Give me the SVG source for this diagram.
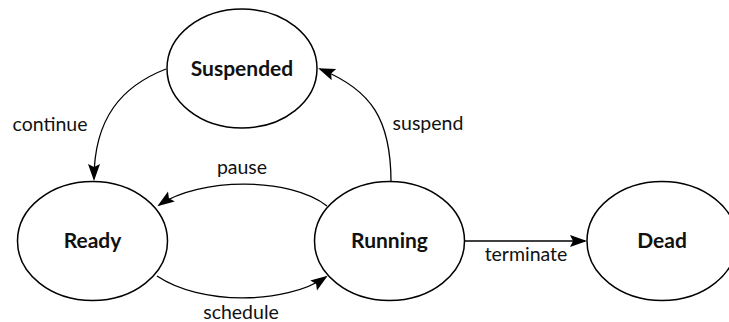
<svg xmlns="http://www.w3.org/2000/svg" width="729" height="322" viewBox="0 0 729 322">
<style>
.node ellipse{fill:#fff;stroke:#000;stroke-width:1.5}
.node text{font-family:Lato,"Liberation Sans",sans-serif;font-weight:bold;font-size:21px;text-anchor:middle;fill:#111}
.edge{fill:none;stroke:#000;stroke-width:1.3}
.lbl{font-family:Lato,"Liberation Sans",sans-serif;font-size:19.5px;fill:#111}
</style>
<defs>
<marker id="arr" markerUnits="userSpaceOnUse" markerWidth="20" markerHeight="14" refX="15" refY="6" orient="auto">
<path d="M0,0 L17,6 L0,12 L3,6 z" fill="#000"/>
</marker>
</defs>
<rect width="729" height="322" fill="#fff"/>
<g id="connectors">
<path class="edge" d="M166,69 C122,86 94,118 94,179" marker-end="url(#arr)"/>
<path class="edge" d="M391,182 C391,120 372,90 320,69" marker-end="url(#arr)"/>
<path class="edge" d="M327,206 C290,177 200,177 159,205" marker-end="url(#arr)"/>
<path class="edge" d="M157,276 C200,305 285,305 326,277" marker-end="url(#arr)"/>
<path class="edge" d="M464,241 L585,241" marker-end="url(#arr)"/>
<text class="lbl" x="50" y="131" text-anchor="middle">continue</text>
<text class="lbl" x="428" y="130" text-anchor="middle">suspend</text>
<text class="lbl" x="242" y="174" text-anchor="middle">pause</text>
<text class="lbl" x="241" y="319" text-anchor="middle">schedule</text>
<text class="lbl" x="526" y="261" text-anchor="middle">terminate</text>
</g>
<g id="suspended" class="node"><ellipse cx="242" cy="68.5" rx="75" ry="59.5"/><text x="242" y="75.5">Suspended</text></g>
<g id="ready" class="node"><ellipse cx="92.5" cy="241" rx="75" ry="59.5"/><text x="92.5" y="248">Ready</text></g>
<g id="running" class="node"><ellipse cx="389.5" cy="241" rx="75" ry="59.5"/><text x="389.5" y="248">Running</text></g>
<g id="dead" class="node"><ellipse cx="662" cy="241" rx="75" ry="59.5"/><text x="662" y="248">Dead</text></g>
</svg>
